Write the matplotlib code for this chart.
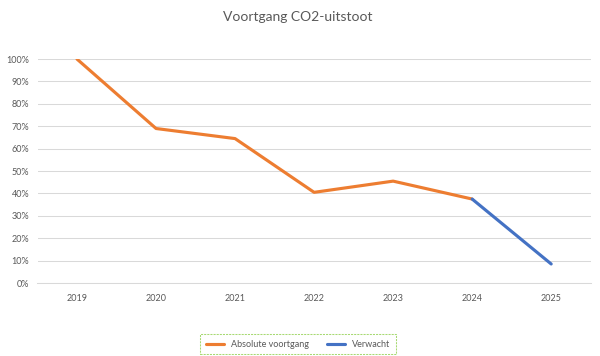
import matplotlib
matplotlib.use("Agg")
import matplotlib.pyplot as plt
import numpy as np
from matplotlib.ticker import PercentFormatter

plt.rcParams['font.family'] = ['Lato', 'DejaVu Sans']

years = ['2019', '2020', '2021', '2022', '2023', '2024', '2025']
absolute = [100, 69, 64.5, 40.5, 45.5, 37.5, np.nan]
expected = [np.nan, np.nan, np.nan, np.nan, np.nan, 37.5, 8.5]
y_ticks = list(range(0, 101, 10))

fig = plt.figure(figsize=(6, 3.56), dpi=100)
ax = fig.add_axes([0.0625, 0.205, 0.922, 0.629])
x = np.arange(len(years))
ax.plot(x, absolute, color='#ED7D31', lw=2.25, label='Absolute voortgang', solid_capstyle='round', zorder=3)
ax.plot(x, expected, color='#4472C4', lw=2.25, label='Verwacht', solid_capstyle='round', zorder=3)

ax.set_xlim(-0.5, len(years) - 0.5)
ax.set_ylim(0, 100)
ax.set_yticks(y_ticks)
ax.yaxis.set_major_formatter(PercentFormatter(decimals=0))
ax.set_xticks(x)
ax.set_xticklabels(years)
ax.grid(axis='y', color='#D9D9D9', lw=0.75)
ax.set_axisbelow(True)
for s in ['top', 'right', 'left']:
    ax.spines[s].set_visible(False)
ax.spines['bottom'].set_color('#D9D9D9')
ax.spines['bottom'].set_linewidth(0.75)
ax.tick_params(axis='both', length=0, labelsize=6.5, colors='#595959')
ax.tick_params(axis='x', pad=8)
ax.tick_params(axis='y', pad=6)

fig.text(0.497, 0.953, 'Voortgang CO2-uitstoot', ha='center', va='center', fontsize=10, color='#595959')

leg = fig.legend(loc='center', ncol=2, fontsize=6.5, frameon=True)
leg.set_bbox_to_anchor((0.497, 0.033))
frame = leg.get_frame()
frame.set_edgecolor('#92D050')
frame.set_linestyle((0, (2, 1)))
frame.set_linewidth(0.75)
frame.set_boxstyle('square', pad=0.2)
for t in leg.get_texts():
    t.set_color('#595959')

fig.savefig('out.png', dpi=100)
